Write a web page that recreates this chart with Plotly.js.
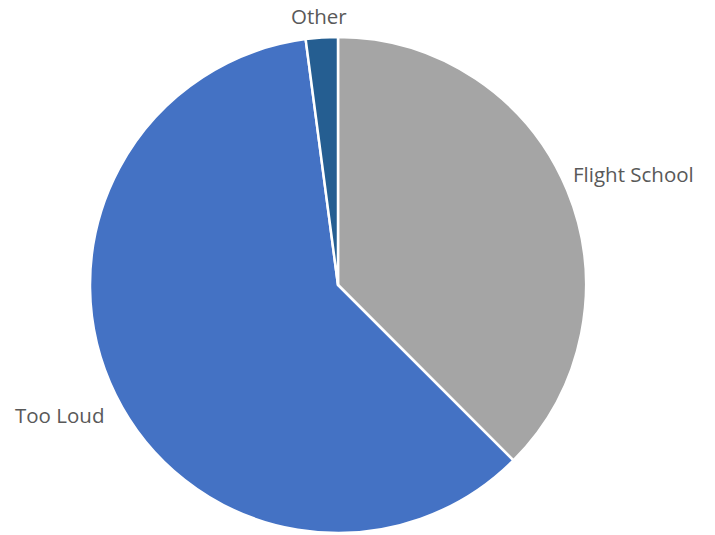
<!DOCTYPE html>
<html>
<head>
<meta charset="utf-8">
<script src="https://cdn.plot.ly/plotly-3.0.1.min.js"></script>
<style>html,body{margin:0;padding:0;background:#fff;}#chart{width:715px;height:535px;}</style>
</head>
<body>
<div id="chart"></div>
<script>
const labels = ["Flight School", "Too Loud", "Other"];
const values = [18, 29, 1];
const colors = ["#A5A5A5", "#4472C4", "#255E91"];

// label placement (paper coords, relative to the pie domain)
const labelPos = [
  {x: 0.970, y: 0.724, xanchor: "left"},
  {x: -0.155, y: 0.238, xanchor: "left"},
  {x: 0.462, y: 1.042, xanchor: "center"}
];
const fontFam = "'Open Sans', sans-serif";

Plotly.newPlot("chart", [{
  type: "pie",
  labels: labels,
  values: values,
  sort: false,
  direction: "clockwise",
  rotation: 0,
  textinfo: "none",
  marker: {colors: colors, line: {color: "#ffffff", width: 2.5}},
  hoverinfo: "label+value",
  automargin: false
}], {
  width: 715, height: 535,
  margin: {l: 90, r: 129, t: 37, b: 2},
  showlegend: false,
  paper_bgcolor: "#ffffff",
  font: {family: fontFam, color: "#595959"},
  annotations: labels.map((t, i) => ({
    text: t, xref: "paper", yref: "paper",
    x: labelPos[i].x, y: labelPos[i].y,
    xanchor: labelPos[i].xanchor, yanchor: "middle",
    showarrow: false,
    font: {family: fontFam, size: 20.5, color: "#595959"}
  }))
}, {displayModeBar: false, staticPlot: true});
</script>
</body>
</html>
